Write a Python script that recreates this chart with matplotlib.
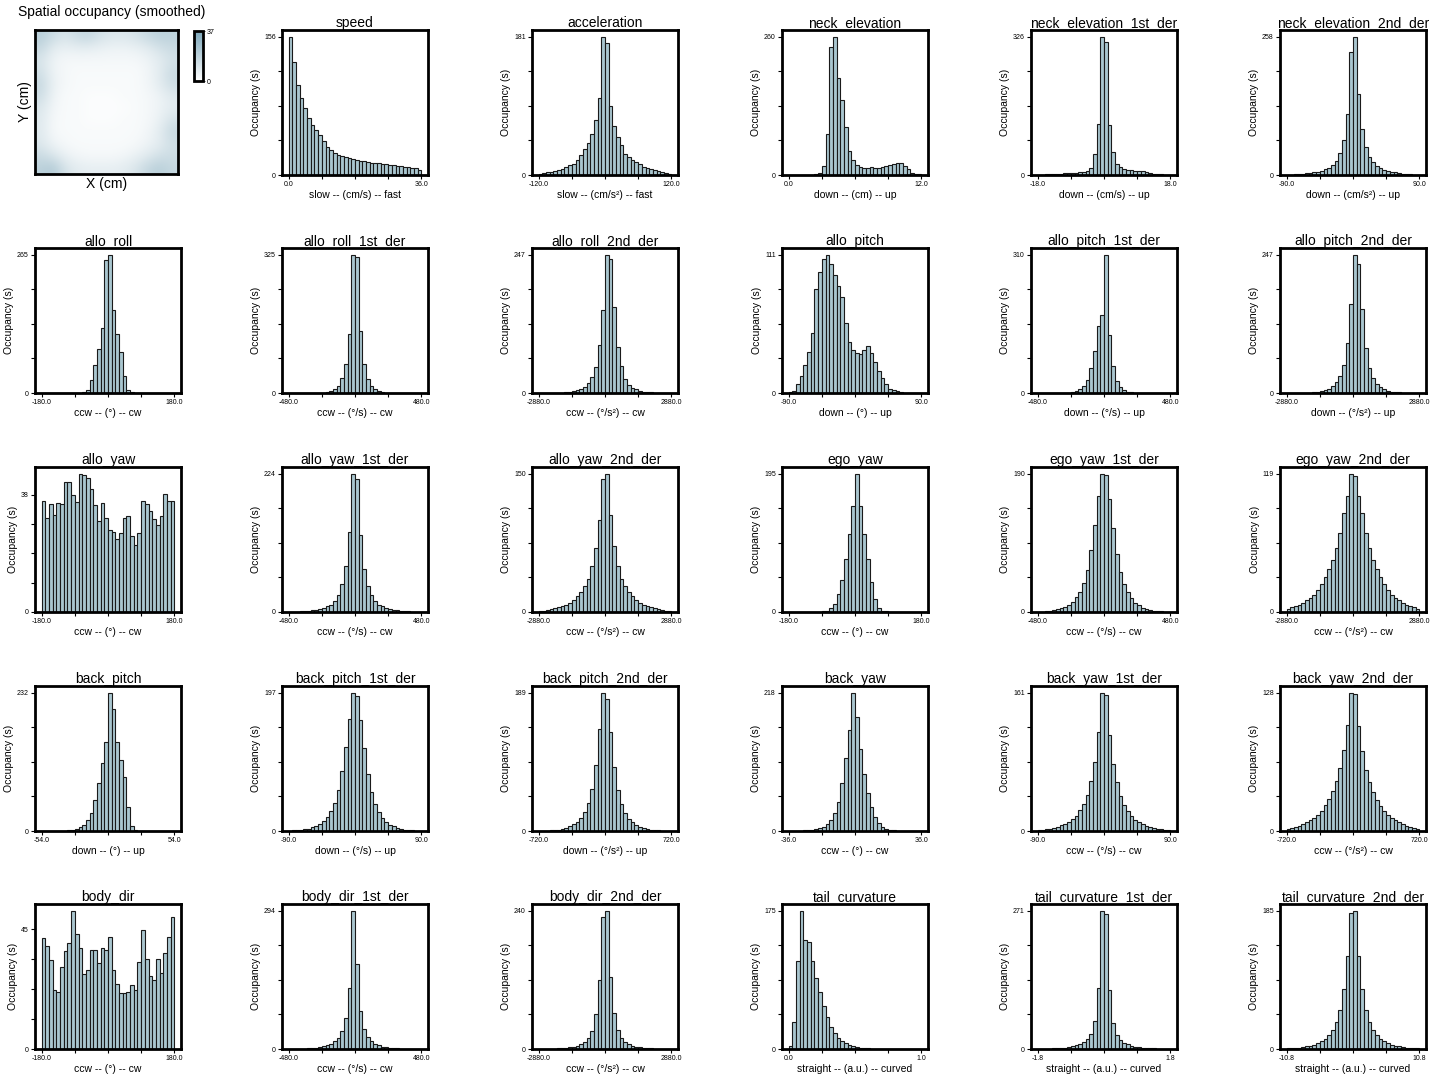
import numpy as np
import matplotlib
matplotlib.use('Agg')
import matplotlib.pyplot as plt
from matplotlib.colors import LinearSegmentedColormap

plt.rcParams['font.family'] = ['Liberation Sans', 'DejaVu Sans']

# ---------------- data ----------------
panel_names = [
    'speed', 'acceleration', 'neck_elevation', 'neck_elevation_1st_der', 'neck_elevation_2nd_der',
    'allo_roll', 'allo_roll_1st_der', 'allo_roll_2nd_der', 'allo_pitch', 'allo_pitch_1st_der', 'allo_pitch_2nd_der',
    'allo_yaw', 'allo_yaw_1st_der', 'allo_yaw_2nd_der', 'ego_yaw', 'ego_yaw_1st_der', 'ego_yaw_2nd_der',
    'back_pitch', 'back_pitch_1st_der', 'back_pitch_2nd_der', 'back_yaw', 'back_yaw_1st_der', 'back_yaw_2nd_der',
    'body_dir', 'body_dir_1st_der', 'body_dir_2nd_der', 'tail_curvature', 'tail_curvature_1st_der', 'tail_curvature_2nd_der',
]

x_labels = [
    'slow -- (cm/s) -- fast', 'slow -- (cm/s²) -- fast', 'down -- (cm) -- up', 'down -- (cm/s) -- up', 'down -- (cm/s²) -- up',
    'ccw -- (°) -- cw', 'ccw -- (°/s) -- cw', 'ccw -- (°/s²) -- cw', 'down -- (°) -- up', 'down -- (°/s) -- up', 'down -- (°/s²) -- up',
    'ccw -- (°) -- cw', 'ccw -- (°/s) -- cw', 'ccw -- (°/s²) -- cw', 'ccw -- (°) -- cw', 'ccw -- (°/s) -- cw', 'ccw -- (°/s²) -- cw',
    'down -- (°) -- up', 'down -- (°/s) -- up', 'down -- (°/s²) -- up', 'ccw -- (°) -- cw', 'ccw -- (°/s) -- cw', 'ccw -- (°/s²) -- cw',
    'ccw -- (°) -- cw', 'ccw -- (°/s) -- cw', 'ccw -- (°/s²) -- cw',
    'straight -- (a.u.) -- curved', 'straight -- (a.u.) -- curved', 'straight -- (a.u.) -- curved',
]

x_min = [0, -120, 0, -18, -90, -180, -480, -2880, -90, -480, -2880, -180, -480, -2880, -180, -480, -2880,
         -54, -90, -720, -36, -90, -720, -180, -480, -2880, 0, -1.8, -10.8]
x_max = [36, 120, 12, 18, 90, 180, 480, 2880, 90, 480, 2880, 180, 480, 2880, 180, 480, 2880,
         54, 90, 720, 36, 90, 720, 180, 480, 2880, 1, 1.8, 10.8]

y_top_labels = [156, 181, 260, 326, 258, 265, 325, 247, 111, 310, 247, 38, 224, 150, 195, 190, 119,
                232, 197, 189, 218, 161, 128, 45, 294, 240, 175, 271, 185]

speed = [156, 128, 102, 87, 76, 64, 57, 51, 45, 38, 32, 28, 25, 23, 22, 20, 19, 18,
         17, 16, 15.5, 15, 14, 13.6, 13.2, 12.5, 12, 11.7, 11.3, 10.6, 10.2, 9.4, 9, 8.3, 7.9, 6]
acceleration = [1.8, 2.6, 3.5, 4.4, 5.7, 7, 8.3, 10, 13, 15, 20, 26, 34, 42, 54, 72, 101, 181,
                173, 90, 64, 50, 39, 28, 24, 20, 17, 14, 11, 9.6, 7.9, 6.1, 4.8, 3.9, 2.6, 1.8]
neck_elevation = [0.3, 0.3, 0.3, 0.3, 0.3, 0.4, 0.8, 1.5, 4, 17, 78, 241, 260, 182, 141, 90, 45, 28,
                  19, 16, 14, 13, 15.5, 14, 13.7, 15.5, 17.4, 18.7, 20.5, 21.8, 22.4, 17, 10.6, 4.4, 2.5, 1]
neck_elevation_1st_der = [0.5, 1, 1.5, 2, 2.3, 3, 3.1, 3.9, 4.6, 5.4, 5.4, 7, 7.7, 10, 15.5, 50, 120, 326,
                          314, 118, 55, 25.5, 18, 14.7, 12.4, 10.8, 9.3, 9.3, 8.5, 6.2, 4.6, 3, 2.3, 1.5, 1, 0.5]
neck_elevation_2nd_der = [0.5, 0.8, 1.2, 1.9, 2.5, 3.1, 3.7, 5, 6.2, 8, 10.6, 14, 19, 27, 41, 66, 114, 229,
                          258, 151, 86, 52, 33, 24, 17.5, 13, 10, 8, 6.2, 5, 3.7, 2.5, 1.9, 1.2, 0.8, 0.5]
allo_roll = [0, 0, 0, 0, 0, 0, 0, 0, 0, 0, 0.5, 2, 6, 24, 53, 84, 125, 255,
             265, 159, 114, 79, 32, 6, 1, 0, 0, 0, 0, 0, 0, 0, 0, 0, 0, 0]
allo_roll_1st_der = [0.2, 0.2, 0.2, 0.2, 0.2, 0.2, 0.2, 0.2, 0.5, 1, 2.3, 4.6, 8.5, 16, 35, 68, 140, 325,
                     319, 147, 68, 33, 16, 8.5, 4.6, 2.3, 1, 0.5, 0.2, 0.2, 0.2, 0.2, 0.2, 0.2, 0.2, 0.2]
allo_roll_2nd_der = [0.3, 0.3, 0.3, 0.3, 0.3, 0.3, 0.6, 1, 1.8, 3, 4.7, 7.7, 11, 18, 28, 47, 85, 148,
                     247, 240, 154, 83, 48, 25, 15, 9, 6.5, 4, 2.4, 1.5, 1, 0.6, 0.3, 0.3, 0.3, 0.3]
allo_pitch = [0.8, 1.9, 6.9, 13.6, 22.5, 33, 48, 83.5, 97, 108, 111, 103.5, 95, 86, 77, 56, 41, 34.7,
              32, 31, 34.7, 38, 32, 25, 17.5, 12, 7, 3.6, 2.2, 1.7, 0.5, 0.2, 0.2, 0.2, 0.2, 0.2]
allo_pitch_1st_der = [0.2, 0.2, 0.2, 0.2, 0.2, 0.2, 0.3, 0.5, 1, 2, 4, 8, 15, 30, 55, 95, 150, 175,
                      310, 130, 60, 28, 13, 6, 3, 1.5, 0.8, 0.4, 0.2, 0.2, 0.2, 0.2, 0.2, 0.2, 0.2, 0.2]
allo_pitch_2nd_der = [0.3, 0.3, 0.3, 0.3, 0.3, 0.5, 0.8, 1.2, 2, 3.5, 5, 8, 12, 19, 30, 50, 90, 160,
                      247, 230, 150, 80, 45, 26, 16, 10, 6.5, 4, 2.5, 1.5, 1, 0.6, 0.3, 0.3, 0.3, 0.3]
allo_yaw = [35.9, 30.6, 34.9, 31.6, 35.3, 34.9, 42.1, 42.1, 38.1, 35.6, 44.8, 44.5, 43.5, 40, 34.8, 29.4, 35.3, 30.5,
            26.7, 26.1, 23.8, 25.6, 30.6, 31, 24.6, 21.8, 25.7, 35.9, 34.9, 32.9, 30.2, 28.1, 31.1, 38.3, 36, 36]
allo_yaw_1st_der = [0.3, 0.5, 0.8, 1, 1.5, 2, 2.5, 3.5, 4.5, 6, 9, 12, 18, 28, 45, 75, 130, 224,
                    215, 125, 70, 42, 27, 18, 12, 9, 6, 4.5, 3.5, 2.5, 2, 1.5, 1, 0.8, 0.5, 0.3]
allo_yaw_2nd_der = [1, 1.5, 2, 3, 4, 5, 6, 8, 10, 13, 17, 22, 28, 36, 50, 70, 100, 145,
                    150, 105, 72, 50, 36, 28, 22, 17, 13, 10, 8, 6, 5, 4, 3, 2, 1.5, 1]
ego_yaw = [0, 0, 0, 0, 0, 0, 0, 0, 0.5, 1, 2, 5, 12, 25, 45, 75, 110, 150,
           195, 150, 110, 75, 42, 18, 6, 2, 1, 0.5, 0, 0, 0, 0, 0, 0, 0, 0]
ego_yaw_1st_der = [0.3, 0.5, 1, 1.5, 2.5, 3.5, 5, 7, 10, 14, 20, 28, 40, 58, 85, 120, 160, 190,
                   188, 155, 115, 80, 55, 38, 27, 19, 13, 9, 6, 4, 3, 2, 1.3, 0.8, 0.5, 0.3]
ego_yaw_2nd_der = [3, 4, 5, 6, 8, 10, 12, 15, 19, 24, 30, 37, 45, 55, 68, 85, 100, 119,
                   117, 100, 85, 68, 55, 45, 37, 30, 24, 19, 15, 12, 10, 8, 6, 5, 4, 3]
back_pitch = [0, 0, 0, 0, 0, 0.3, 0.6, 1, 2, 3, 6, 10, 18, 30, 52, 80, 115, 150,
              232, 205, 150, 120, 90, 40, 8, 2, 0.5, 0, 0, 0, 0, 0, 0, 0, 0, 0]
back_pitch_1st_der = [0.5, 0.8, 1.2, 1.8, 2.5, 3.5, 5, 7, 10, 14, 20, 28, 40, 58, 85, 120, 160, 197,
                      193, 158, 118, 82, 56, 39, 27, 19, 13, 9, 6.5, 4.5, 3, 2, 1.5, 1, 0.6, 0.4]
back_pitch_2nd_der = [0.3, 0.4, 0.6, 0.9, 1.3, 2, 3, 4.5, 6.5, 9, 13, 18, 26, 38, 58, 90, 140, 189,
                      180, 135, 88, 56, 37, 25, 17, 12, 8.5, 6, 4, 2.8, 2, 1.3, 0.9, 0.6, 0.4, 0.3]
back_yaw = [0.3, 0.4, 0.5, 0.7, 1, 1.5, 2, 3, 4.5, 7, 11, 17, 28, 45, 75, 115, 160, 218,
            180, 130, 90, 60, 38, 22, 12, 6, 3, 1.5, 1, 0.6, 0.4, 0.3, 0.2, 0.2, 0.2, 0.2]
back_yaw_1st_der = [1, 1.5, 2, 2.8, 3.8, 5, 6.5, 8.5, 11, 14, 18, 24, 31, 42, 58, 80, 115, 161,
                    158, 112, 78, 57, 41, 30, 23, 17, 13, 10, 8, 6, 4.5, 3.3, 2.5, 1.8, 1.3, 1]
back_yaw_2nd_der = [2, 3, 4, 5, 6.5, 8, 10, 12.5, 15, 19, 24, 30, 37, 46, 58, 75, 98, 128,
                    127, 97, 74, 57, 45, 36, 29, 23, 18.5, 15, 12, 10, 8, 6.5, 5, 4, 3, 2]
body_dir = [41.8, 38.7, 33.3, 22.1, 21.4, 30.9, 36.8, 40, 51.9, 43.3, 37.8, 28, 29.6, 37.3, 37.1, 32.3, 38.1, 37.1,
            42.1, 29.8, 24.6, 20.9, 20.9, 21.6, 24.2, 22.1, 32.7, 44.7, 33.9, 27.4, 26.1, 33.9, 28.4, 36.2, 42.2, 49.7]
body_dir_1st_der = [0.3, 0.4, 0.5, 0.7, 1, 1.4, 2, 2.8, 4, 5.5, 8, 11, 16, 24, 38, 65, 130, 294,
                    180, 80, 42, 25, 16, 11, 7.5, 5, 3.5, 2.5, 1.8, 1.2, 0.8, 0.6, 0.4, 0.3, 0.2, 0.2]
body_dir_2nd_der = [0.2, 0.3, 0.4, 0.5, 0.7, 1, 1.4, 2, 2.8, 4, 5.5, 8, 12, 19, 32, 60, 120, 230,
                    240, 125, 62, 33, 19, 12, 8, 5.5, 4, 2.8, 2, 1.4, 1, 0.7, 0.5, 0.4, 0.3, 0.2]
tail_curvature = [4, 34, 112, 175, 138, 136, 112, 90, 72, 55, 40, 28, 20, 14, 10, 7, 5, 3.5,
                  2.5, 1.8, 1.2, 0.8, 0.5, 0.4, 0.3, 0.2, 0.2, 0.1, 0.1, 0.1, 0, 0, 0, 0, 0, 0]
tail_curvature_1st_der = [0.3, 0.4, 0.6, 0.8, 1.1, 1.5, 2, 2.8, 3.8, 5, 7, 9.5, 13, 19, 30, 55, 120, 271,
                          265, 115, 52, 28, 18, 12.5, 9, 6.5, 4.8, 3.5, 2.6, 1.9, 1.4, 1, 0.7, 0.5, 0.4, 0.3]
tail_curvature_2nd_der = [0.8, 1.1, 1.5, 2, 2.7, 3.5, 4.6, 6, 8, 10.5, 14, 19, 26, 36, 52, 80, 125, 182,
                          185, 125, 80, 52, 36, 26, 19, 14, 10.5, 8, 6, 4.6, 3.5, 2.7, 2, 1.5, 1.1, 0.8]

panel_values = [
    speed, acceleration, neck_elevation, neck_elevation_1st_der, neck_elevation_2nd_der,
    allo_roll, allo_roll_1st_der, allo_roll_2nd_der, allo_pitch, allo_pitch_1st_der, allo_pitch_2nd_der,
    allo_yaw, allo_yaw_1st_der, allo_yaw_2nd_der, ego_yaw, ego_yaw_1st_der, ego_yaw_2nd_der,
    back_pitch, back_pitch_1st_der, back_pitch_2nd_der, back_yaw, back_yaw_1st_der, back_yaw_2nd_der,
    body_dir, body_dir_1st_der, body_dir_2nd_der, tail_curvature, tail_curvature_1st_der, tail_curvature_2nd_der,
]

# smoothed spatial occupancy grid (rows top -> bottom)
occupancy_grid = [
    [20, 15, 11, 15, 17, 12, 10, 10, 12, 16, 19, 18],
    [16, 8, 6, 7, 7, 6, 5, 5, 6, 8, 12, 15],
    [11, 5, 3, 3, 3, 3, 3, 3, 3, 5, 8, 12],
    [13, 5, 3, 2, 2, 2, 2, 2, 2, 4, 8, 15],
    [16, 6, 3, 2, 2, 2, 2, 2, 2, 4, 8, 14],
    [14, 5, 2, 2, 1, 1, 1, 2, 2, 3, 5, 9],
    [10, 4, 2, 2, 1, 1, 1, 1, 2, 3, 5, 8],
    [9, 3, 2, 2, 1, 1, 1, 2, 2, 3, 6, 12],
    [9, 3, 2, 2, 2, 2, 2, 2, 2, 4, 8, 16],
    [10, 5, 3, 2, 2, 2, 2, 2, 3, 5, 8, 13],
    [15, 11, 6, 4, 3, 3, 3, 4, 6, 9, 13, 14],
    [19, 22, 12, 8, 7, 7, 7, 8, 11, 17, 20, 16],
]
occupancy_max = 37

# ---------------- style ----------------
W, H = 1437, 1086
BAR_FACE = '#a9c6cf'
BAR_EDGE = '#1a1a1a'
SPINE_W = 2.0

fig = plt.figure(figsize=(W / 100, H / 100), dpi=100)


def px_axes(left, top, w, h):
    return fig.add_axes([left / W, 1 - (top + h) / H, w / W, h / H])


col_left = [35, 282, 532, 782, 1031, 1280]
row_top = [30, 248, 467, 686, 904]
AX_W, AX_H = 146, 145

# ---- spatial occupancy heatmap ----
ax_h = px_axes(35, 30, 143, 144)
cmap = LinearSegmentedColormap.from_list('occ', ['#ffffff', '#7ca6b9'])
im = ax_h.imshow(np.array(occupancy_grid, dtype=float), cmap=cmap, vmin=0, vmax=occupancy_max,
                 interpolation='bicubic', aspect='auto')
ax_h.set_xticks([])
ax_h.set_yticks([])
for s in ax_h.spines.values():
    s.set_linewidth(SPINE_W)
ax_h.set_xlabel('X (cm)', fontsize=10, labelpad=2)
ax_h.set_ylabel('Y (cm)', fontsize=10, labelpad=2)
fig.text(18 / W, 1 - 12 / H, 'Spatial occupancy (smoothed)', fontsize=10, ha='left', va='center')

cax = px_axes(194, 31, 9, 50)
cb = fig.colorbar(im, cax=cax, ticks=[0, occupancy_max])
cb.outline.set_linewidth(SPINE_W)
cax.tick_params(labelsize=5, length=1.5, width=0.5, pad=1)
cb.ax.set_yticklabels(['0', str(occupancy_max)])

# ---- histograms ----
for i, (name, vals) in enumerate(zip(panel_names, panel_values)):
    slot = i + 1
    r, c = divmod(slot, 6)
    ax = px_axes(col_left[c], row_top[r], AX_W, AX_H)
    lo, hi = x_min[i], x_max[i]
    edges = np.linspace(lo, hi, len(vals) + 1)
    ax.bar(edges[:-1], vals, width=np.diff(edges), align='edge', color=BAR_FACE,
           edgecolor=BAR_EDGE, linewidth=0.8)
    span = hi - lo
    ax.set_xlim(lo - 0.05 * span, hi + 0.05 * span)
    ax.set_ylim(0, max(vals) * 1.05)
    xt = np.linspace(lo, hi, 5)
    ax.set_xticks(xt)
    ax.set_xticklabels([f'{lo:.1f}', '', '', '', f'{hi:.1f}'])
    yt = np.linspace(0, y_top_labels[i], 5)
    ax.set_yticks(yt)
    ax.set_yticklabels(['0', '', '', '', str(y_top_labels[i])])
    ax.tick_params(labelsize=5, length=3, width=0.8, pad=1.5, direction='out')
    for s in ax.spines.values():
        s.set_linewidth(SPINE_W)
    ax.set_title(name, fontsize=10, pad=1.5)
    ax.set_xlabel(x_labels[i], fontsize=7.5, labelpad=1.5)
    ax.set_ylabel('Occupancy (s)', fontsize=7.5, labelpad=2)

fig.savefig('out.png', dpi=100)
